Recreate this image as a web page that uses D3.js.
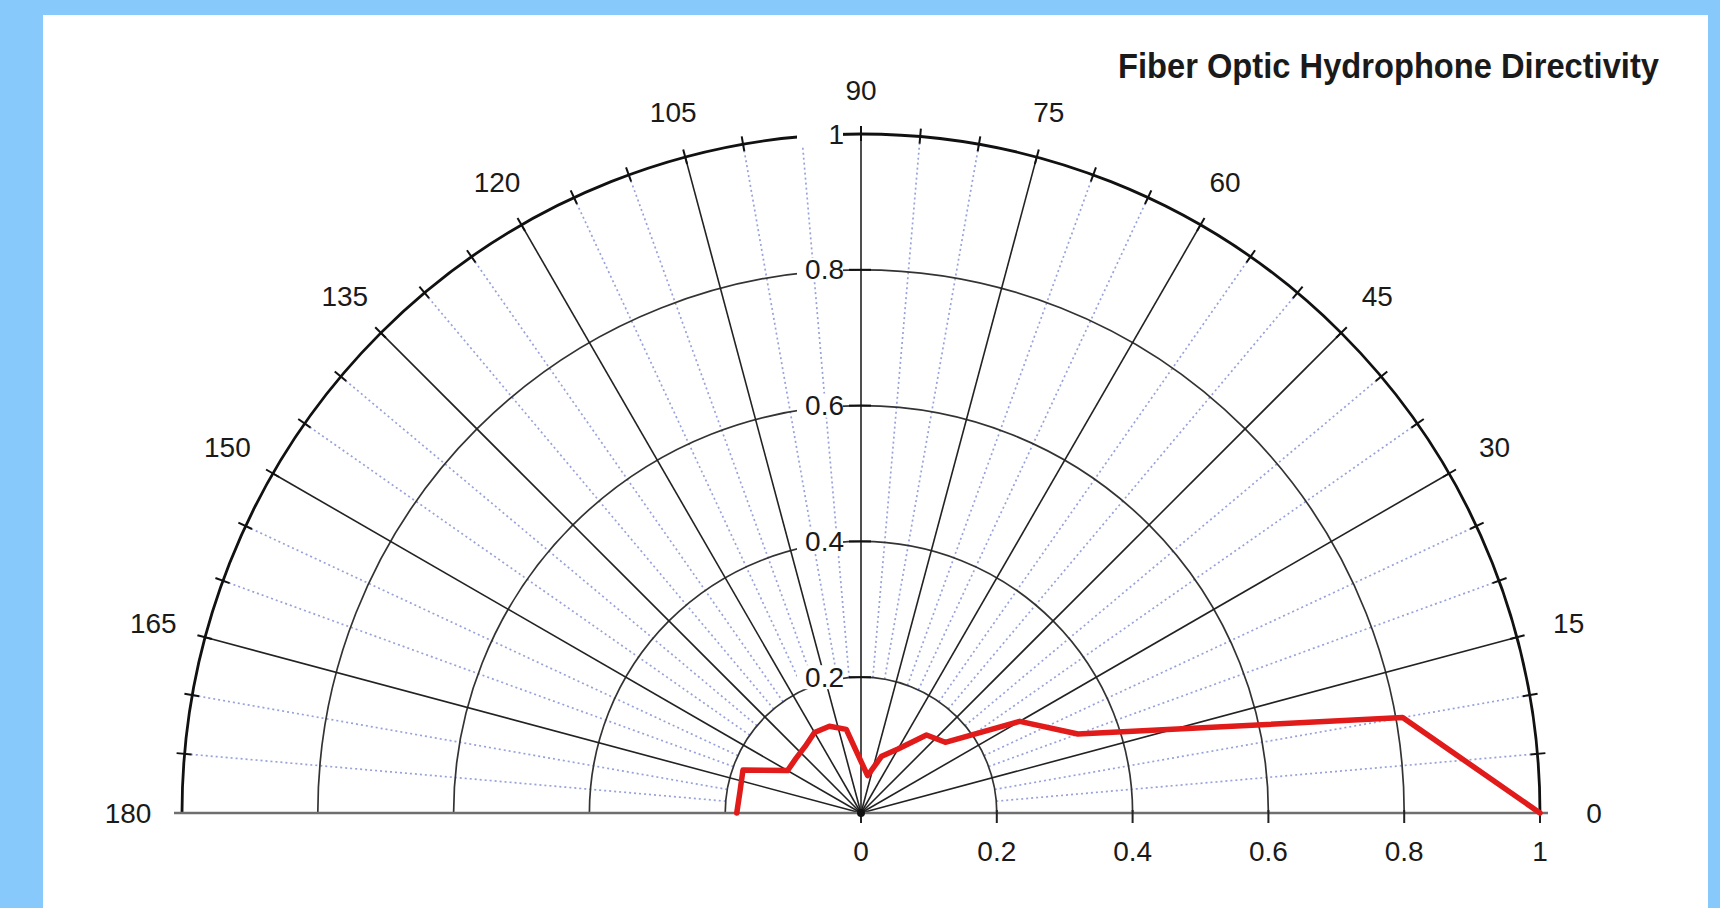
<!DOCTYPE html>
<html>
<head>
<meta charset="utf-8">
<script src="https://cdn.jsdelivr.net/npm/d3@7"></script>
<style>
  html, body { margin: 0; padding: 0; background: #87c9fa; }
  svg { display: block; }
  text { font-family: "Liberation Sans", Arial, Helvetica, sans-serif; fill: #1a1a1a; }
</style>
</head>
<body>
<svg id="chart" width="1720" height="908"></svg>
<script>
// ---- data ----
const titleText = "Fiber Optic Hydrophone Directivity";
const angles = [0, 10, 20, 30, 40, 50, 60, 70, 80, 90, 100, 110, 120, 130, 140, 150, 160, 170, 180];
const response = [1.0, 0.81, 0.34, 0.27, 0.162, 0.15, 0.109, 0.089, 0.056, 0.076, 0.125, 0.136, 0.137, 0.128, 0.125, 0.125, 0.185, 0.181, 0.183];
const angleTicks = [0, 15, 30, 45, 60, 75, 90, 105, 120, 135, 150, 165, 180];
const minorAngles = d3.range(0, 181, 5);
const radialTicks = [0.2, 0.4, 0.6, 0.8, 1];
const radialTickLabels = ["0.2", "0.4", "0.6", "0.8", "1"];
const xTicks = [0, 0.2, 0.4, 0.6, 0.8, 1];
const xTickLabels = ["0", "0.2", "0.4", "0.6", "0.8", "1"];

// ---- layout ----
const svg = d3.select("#chart");
svg.append("rect").attr("x", 43).attr("y", 15).attr("width", 1665).attr("height", 893).attr("fill", "#ffffff");

const cx = 861, cy = 813, R = 679;
const r = d3.scaleLinear().domain([0, 1]).range([0, R]);
const theta = d3.scaleLinear().domain([0, 180]).range([0, Math.PI]);
const px = (a, v) => cx + r(v) * Math.cos(theta(a));
const py = (a, v) => cy - r(v) * Math.sin(theta(a));

const g = svg.append("g");

// dotted minor radials (from 0.2 to 1)
g.selectAll("line.minor").data(minorAngles.filter(a => a % 15 !== 0)).join("line")
  .attr("class", "minor")
  .attr("x1", a => px(a, 0.2)).attr("y1", a => py(a, 0.2))
  .attr("x2", a => px(a, 1)).attr("y2", a => py(a, 1))
  .attr("stroke", "#98a2da").attr("stroke-width", 1.7).attr("stroke-dasharray", "2,3");

// inner circles
const arc = d3.arc().startAngle(-Math.PI / 2).endAngle(Math.PI / 2);
g.selectAll("path.circ").data(radialTicks.filter(v => v < 1)).join("path")
  .attr("class", "circ")
  .attr("transform", `translate(${cx},${cy})`)
  .attr("d", v => arc({innerRadius: r(v), outerRadius: r(v)}))
  .attr("fill", "none").attr("stroke", "#333").attr("stroke-width", 1.7);

// major radials
g.selectAll("line.major").data(angleTicks.filter(a => a !== 0 && a !== 180)).join("line")
  .attr("class", "major")
  .attr("x1", cx).attr("y1", cy)
  .attr("x2", a => px(a, 1)).attr("y2", a => py(a, 1))
  .attr("stroke", "#222").attr("stroke-width", 1.6);

// outer circle
g.append("path")
  .attr("transform", `translate(${cx},${cy})`)
  .attr("d", arc({innerRadius: R, outerRadius: R}))
  .attr("fill", "none").attr("stroke", "#111").attr("stroke-width", 2.8);

// ticks on the outer circle every 5 deg
g.selectAll("line.otick").data(minorAngles).join("line")
  .attr("class", "otick")
  .attr("x1", a => cx + (R - 7) * Math.cos(theta(a))).attr("y1", a => cy - (R - 7) * Math.sin(theta(a)))
  .attr("x2", a => cx + (R + 8) * Math.cos(theta(a))).attr("y2", a => cy - (R + 8) * Math.sin(theta(a)))
  .attr("stroke", "#111").attr("stroke-width", 2);

// baseline (x axis)
g.append("line").attr("x1", cx - R - 8).attr("x2", cx + R + 8).attr("y1", cy).attr("y2", cy)
  .attr("stroke", "#6f6f6f").attr("stroke-width", 2.4);
g.selectAll("line.xtick").data(xTicks).join("line")
  .attr("class", "xtick")
  .attr("x1", v => cx + r(v)).attr("x2", v => cx + r(v))
  .attr("y1", cy - 3).attr("y2", cy + 10)
  .attr("stroke", "#222").attr("stroke-width", 2);
g.selectAll("text.xlab").data(xTicks).join("text")
  .attr("class", "xlab")
  .attr("x", v => cx + r(v)).attr("y", cy + 38)
  .attr("text-anchor", "middle").attr("dominant-baseline", "central")
  .attr("font-size", 28)
  .text((v, i) => xTickLabels[i]);

// radial axis labels with white backgrounds
const rl = g.selectAll("g.rlab").data(radialTicks).join("g").attr("class", "rlab");
rl.append("rect")
  .attr("x", cx - 18 - 46).attr("width", 46)
  .attr("y", v => cy - r(v) - 12).attr("height", 24)
  .attr("fill", "#fff");
rl.append("line")
  .attr("x1", cx - 12).attr("x2", cx + 10)
  .attr("y1", v => cy - r(v)).attr("y2", v => cy - r(v))
  .attr("stroke", "#111").attr("stroke-width", 2);
rl.append("text")
  .attr("x", cx - 17).attr("y", v => cy - r(v))
  .attr("text-anchor", "end").attr("dominant-baseline", "central")
  .attr("font-size", 28)
  .text((v, i) => radialTickLabels[i]);

// angle labels
g.selectAll("text.alab").data(angleTicks).join("text")
  .attr("class", "alab")
  .attr("x", a => cx + (R + 44 + 10 * Math.abs(Math.cos(theta(a)))) * Math.cos(theta(a)))
  .attr("y", a => cy - (R + 44 + 10 * Math.abs(Math.cos(theta(a)))) * Math.sin(theta(a)))
  .attr("text-anchor", "middle").attr("dominant-baseline", "central")
  .attr("font-size", 28)
  .text(a => a);

// data line
const line = d3.lineRadial()
  .angle(d => Math.PI / 2 - theta(d[0]))
  .radius(d => r(d[1]));
g.append("path")
  .attr("transform", `translate(${cx},${cy})`)
  .attr("d", line(angles.map((a, i) => [a, response[i]])))
  .attr("fill", "none").attr("stroke", "#e11a1a").attr("stroke-width", 5.5)
  .attr("stroke-linejoin", "round").attr("stroke-linecap", "round");

// center dot
g.append("circle").attr("cx", cx).attr("cy", cy).attr("r", 4).attr("fill", "#111");

// title
svg.append("text")
  .attr("x", 1659).attr("y", 78)
  .attr("text-anchor", "end")
  .attr("font-family", "'Liberation Sans Narrow', 'Liberation Sans', Arial, sans-serif")
  .attr("font-size", 35).attr("font-weight", "bold")
  .attr("textLength", 541).attr("lengthAdjust", "spacingAndGlyphs")
  .text(titleText);
</script>
</body>
</html>
